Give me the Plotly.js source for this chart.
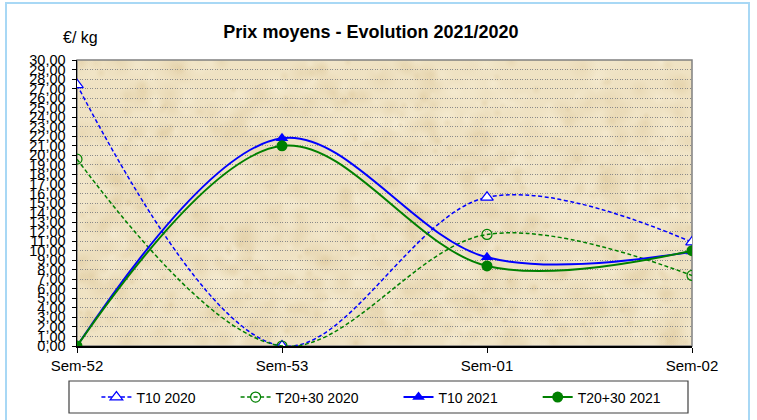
<!DOCTYPE html>
<html>
<head>
<meta charset="utf-8">
<script src="https://cdn.plot.ly/plotly-3.0.1.min.js"></script>
<style>
  html, body { margin: 0; padding: 0; background: #ffffff; }
  #chart { width: 757px; height: 420px; }
</style>
</head>
<body>
<div id="chart"></div>
<script>
// ---- data ----
const weeks = ["Sem-52", "Sem-53", "Sem-01", "Sem-02"];
const t10_2020 = [27.4, 0.0, 15.6, 10.9];
const t2030_2020 = [19.6, 0.0, 11.7, 7.4];
const t10_2021 = [0.0, 21.8, 9.3, 9.9];
const t2030_2021 = [0.0, 21.0, 8.4, 10.0];
const yTickVals = [];
const yTickText = [];
for (let v = 0; v <= 30; v++) { yTickVals.push(v); yTickText.push(v.toFixed(2).replace('.', ',')); }

// ---- parchment texture (decorative background only) ----
function makeTexture() {
  const c = document.createElement('canvas');
  c.width = 615; c.height = 286;
  const g = c.getContext('2d');
  g.fillStyle = '#efe2c3';
  g.fillRect(0, 0, c.width, c.height);
  let s = 24680;
  const rnd = () => { s = (s * 16807) % 2147483647; return s / 2147483647; };
  for (let i = 0; i < 900; i++) {
    const x = rnd() * c.width, y = rnd() * c.height;
    const r = 3 + rnd() * 14;
    const dark = rnd() < 0.5;
    const grad = g.createRadialGradient(x, y, 0, x, y, r);
    const col = dark ? '215,190,140' : '250,243,222';
    grad.addColorStop(0, 'rgba(' + col + ',0.25)');
    grad.addColorStop(1, 'rgba(' + col + ',0)');
    g.fillStyle = grad;
    g.beginPath(); g.ellipse(x, y, r * 2.2, r, 0, 0, Math.PI * 2); g.fill();
  }
  return c.toDataURL('image/png');
}

const nb = '\u00a0'.repeat(9);
const font = "Liberation Sans, Arial, sans-serif";

const traces = [
  { x: weeks, y: t10_2020, name: 'T10 2020' + nb, type: 'scatter', mode: 'lines+markers',
    line: { color: '#0000ff', width: 1.5, dash: '4px,2.5px', shape: 'spline', smoothing: 1 },
    marker: { symbol: 'triangle-up', size: 11, color: '#ffffff', line: { color: '#0000ff', width: 1.2 } } },
  { x: weeks, y: t2030_2020, name: 'T20+30 2020' + nb, type: 'scatter', mode: 'lines+markers',
    line: { color: '#008000', width: 1.5, dash: '4px,2.5px', shape: 'spline', smoothing: 1 },
    marker: { symbol: 'circle-open', size: 10, color: '#008000', line: { color: '#008000', width: 1.2 } } },
  { x: weeks, y: t10_2021, name: 'T10 2021' + nb, type: 'scatter', mode: 'lines+markers',
    line: { color: '#0000ff', width: 2, shape: 'spline', smoothing: 1 },
    marker: { symbol: 'triangle-up', size: 11, color: '#0000ff' } },
  { x: weeks, y: t2030_2021, name: 'T20+30 2021', type: 'scatter', mode: 'lines+markers',
    line: { color: '#008000', width: 2, shape: 'spline', smoothing: 1 },
    marker: { symbol: 'circle', size: 11, color: '#008000' } }
];

const layout = {
  width: 757, height: 420,
  margin: { l: 77, r: 65, t: 60, b: 74, pad: 0, autoexpand: false },
  paper_bgcolor: '#ffffff',
  plot_bgcolor: '#efe2c3',
  font: { family: font, color: '#000000', size: 14 },
  title: { text: '<b>Prix moyens - Evolution 2021/2020</b>', x: 0.49, xanchor: 'center', y: 0.925, yanchor: 'middle',
           font: { family: font, size: 18, color: '#000000' } },
  showlegend: true,
  legend: { orientation: 'h', x: 0.495, xanchor: 'center', y: -0.18, yanchor: 'middle',
            bgcolor: 'rgba(0,0,0,0)', borderwidth: 0, font: { family: font, size: 14 } },
  xaxis: {
    type: 'category', range: [0, 3], showgrid: false, zeroline: false,
    showline: true, linecolor: '#000000', linewidth: 1.5,
    ticks: 'outside', ticklen: 5, tickcolor: '#000000', tickfont: { family: font, size: 15 },
    ticklabelstandoff: 0, fixedrange: true
  },
  yaxis: {
    range: [0, 30], tickvals: yTickVals, ticktext: yTickText, showgrid: true,
    gridcolor: '#8a8a8a', griddash: '1px,1.5px', gridwidth: 1, zeroline: false,
    showline: true, linecolor: '#000000', linewidth: 1.5,
    ticks: 'outside', ticklen: 4, tickcolor: '#000000', tickfont: { family: font, size: 14.5 },
    ticklabelstandoff: 3, fixedrange: true
  },
  yaxis2: {
    overlaying: 'y', side: 'left', range: [0, 30], tickvals: yTickVals, showticklabels: false,
    showgrid: false, zeroline: false, showline: false,
    ticks: 'inside', ticklen: 5, tickcolor: '#000000', fixedrange: true
  },
  images: [{ source: makeTexture(), xref: 'paper', yref: 'paper', x: 0, y: 1, sizex: 1, sizey: 1,
             sizing: 'stretch', layer: 'below' }],
  shapes: [
    { type: 'rect', xref: 'paper', yref: 'paper', x0: 0, x1: 1, y0: 0, y1: 1,
      line: { color: '#808080', width: 1.5 }, layer: 'below' },
    { type: 'rect', xref: 'paper', yref: 'paper', x0: -71/615, x1: 1 + 57/615, y0: -80/286, y1: 1 + 57/286,
      line: { color: '#a8d8f5', width: 2 } },
    { type: 'rect', xref: 'paper', yref: 'paper', x0: -8/615, x1: 1 - 4/615, y0: -67/286, y1: -35/286,
      line: { color: '#404040', width: 1.2 }, fillcolor: 'rgba(0,0,0,0)' }
  ],
  annotations: [
    { text: '€/ kg', xref: 'paper', yref: 'paper', x: -16/615, y: 1 + 23/286, xanchor: 'left', yanchor: 'middle',
      showarrow: false, font: { family: font, size: 16, color: '#000000' } }
  ]
};

Plotly.newPlot('chart', traces, layout, { displayModeBar: false, staticPlot: true });
</script>
</body>
</html>
